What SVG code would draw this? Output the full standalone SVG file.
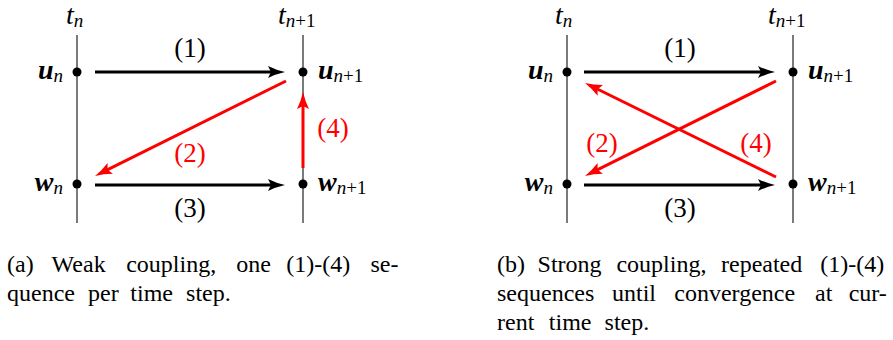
<svg xmlns="http://www.w3.org/2000/svg" width="893" height="340" viewBox="0 0 893 340">
<defs>
<style>
.axis{stroke:#222;stroke-width:1.2;fill:none}
.dot{fill:#000}
.ab{stroke:#000;stroke-width:3;fill:none}
.ar{stroke:#f00;stroke-width:3;fill:none}
</style>
<marker id="hb" markerUnits="userSpaceOnUse" viewBox="0 0 17 12" markerWidth="17" markerHeight="12" refX="9" refY="6" orient="auto">
<path d="M0,0 Q8,4 17,6 Q8,8 0,12 L3,6 z" fill="#000"/>
</marker>
<marker id="hr" markerUnits="userSpaceOnUse" viewBox="0 0 17 12" markerWidth="17" markerHeight="12" refX="9" refY="6" orient="auto">
<path d="M0,0 Q8,4 17,6 Q8,8 0,12 L3,6 z" fill="#f00"/>
</marker>
</defs>
<g id="a-axis-tn">
<line class="axis" x1="77" y1="35" x2="77" y2="223"/>
<text x="66" y="24" font-family="Liberation Serif" font-size="28" font-style="italic">t<tspan font-size="19" dy="3">n</tspan></text>
</g>
<g id="a-axis-tn1">
<line class="axis" x1="303" y1="35" x2="303" y2="223"/>
<text x="278" y="24" font-family="Liberation Serif" font-size="28" font-style="italic">t<tspan font-size="19" dy="3">n</tspan><tspan font-size="19" font-style="normal">+1</tspan></text>
</g>
<g id="a-un">
<circle class="dot" cx="77" cy="72" r="4.5"/>
<text x="63" y="79" text-anchor="end" font-family="Liberation Serif" font-size="28" font-style="italic"><tspan font-weight="bold">u</tspan><tspan font-size="19" dy="3">n</tspan></text>
</g>
<g id="a-wn">
<circle class="dot" cx="77" cy="184" r="4.5"/>
<text x="63" y="191" text-anchor="end" font-family="Liberation Serif" font-size="28" font-style="italic"><tspan font-weight="bold">w</tspan><tspan font-size="19" dy="3">n</tspan></text>
</g>
<g id="a-un1">
<circle class="dot" cx="303" cy="72" r="4.5"/>
<text x="318" y="79" font-family="Liberation Serif" font-size="28" font-style="italic"><tspan font-weight="bold">u</tspan><tspan font-size="19" dy="3">n</tspan><tspan font-size="19" font-style="normal">+1</tspan></text>
</g>
<g id="a-wn1">
<circle class="dot" cx="303" cy="184" r="4.5"/>
<text x="318" y="191" font-family="Liberation Serif" font-size="28" font-style="italic"><tspan font-weight="bold">w</tspan><tspan font-size="19" dy="3">n</tspan><tspan font-size="19" font-style="normal">+1</tspan></text>
</g>
<g id="a-connectors">
<line class="ab" x1="95" y1="72" x2="277" y2="72" marker-end="url(#hb)"/>
<line class="ab" x1="95" y1="185" x2="277" y2="185" marker-end="url(#hb)"/>
<line class="ar" x1="286" y1="81" x2="102.2" y2="172.4" marker-end="url(#hr)"/>
<line class="ar" x1="303" y1="168" x2="303" y2="100" marker-end="url(#hr)"/>
<text x="190" y="57" text-anchor="middle" font-family="Liberation Serif" font-size="27">(1)</text>
<text x="190" y="217" text-anchor="middle" font-family="Liberation Serif" font-size="27">(3)</text>
<text x="190" y="162" text-anchor="middle" font-family="Liberation Serif" font-size="27" fill="#f00">(2)</text>
<text x="333" y="137" text-anchor="middle" font-family="Liberation Serif" font-size="27" fill="#f00">(4)</text>
</g>
<g id="a-caption">
<text y="272" font-family="Liberation Serif" font-size="24"><tspan x="7">(a)</tspan><tspan x="51.6">Weak</tspan><tspan x="126.2">coupling,</tspan><tspan x="236.2">one</tspan><tspan x="286.3">(1)-(4)</tspan><tspan x="370.4">se-</tspan></text>
<text y="301" font-family="Liberation Serif" font-size="24"><tspan x="7">quence</tspan><tspan x="88">per</tspan><tspan x="130.3">time</tspan><tspan x="186.1">step.</tspan></text>
</g>
<g id="b-axis-tn">
<line class="axis" x1="567" y1="35" x2="567" y2="223"/>
<text x="555" y="24" font-family="Liberation Serif" font-size="28" font-style="italic">t<tspan font-size="19" dy="3">n</tspan></text>
</g>
<g id="b-axis-tn1">
<line class="axis" x1="793" y1="35" x2="793" y2="223"/>
<text x="768" y="24" font-family="Liberation Serif" font-size="28" font-style="italic">t<tspan font-size="19" dy="3">n</tspan><tspan font-size="19" font-style="normal">+1</tspan></text>
</g>
<g id="b-un">
<circle class="dot" cx="567" cy="72" r="4.5"/>
<text x="553" y="79" text-anchor="end" font-family="Liberation Serif" font-size="28" font-style="italic"><tspan font-weight="bold">u</tspan><tspan font-size="19" dy="3">n</tspan></text>
</g>
<g id="b-wn">
<circle class="dot" cx="567" cy="184" r="4.5"/>
<text x="553" y="191" text-anchor="end" font-family="Liberation Serif" font-size="28" font-style="italic"><tspan font-weight="bold">w</tspan><tspan font-size="19" dy="3">n</tspan></text>
</g>
<g id="b-un1">
<circle class="dot" cx="793" cy="72" r="4.5"/>
<text x="808" y="79" font-family="Liberation Serif" font-size="28" font-style="italic"><tspan font-weight="bold">u</tspan><tspan font-size="19" dy="3">n</tspan><tspan font-size="19" font-style="normal">+1</tspan></text>
</g>
<g id="b-wn1">
<circle class="dot" cx="793" cy="184" r="4.5"/>
<text x="808" y="191" font-family="Liberation Serif" font-size="28" font-style="italic"><tspan font-weight="bold">w</tspan><tspan font-size="19" dy="3">n</tspan><tspan font-size="19" font-style="normal">+1</tspan></text>
</g>
<g id="b-connectors">
<line class="ab" x1="584" y1="72" x2="767" y2="72" marker-end="url(#hb)"/>
<line class="ab" x1="584" y1="185" x2="767" y2="185" marker-end="url(#hb)"/>
<line class="ar" x1="776" y1="81" x2="592.2" y2="172.4" marker-end="url(#hr)"/>
<line class="ar" x1="776" y1="177" x2="592.2" y2="86.5" marker-end="url(#hr)"/>
<text x="680" y="57" text-anchor="middle" font-family="Liberation Serif" font-size="27">(1)</text>
<text x="680" y="217" text-anchor="middle" font-family="Liberation Serif" font-size="27">(3)</text>
<text x="602" y="152" text-anchor="middle" font-family="Liberation Serif" font-size="27" fill="#f00">(2)</text>
<text x="756" y="152" text-anchor="middle" font-family="Liberation Serif" font-size="27" fill="#f00">(4)</text>
</g>
<g id="b-caption">
<text y="272" font-family="Liberation Serif" font-size="24"><tspan x="497">(b)</tspan><tspan x="537.6">Strong</tspan><tspan x="616.4">coupling,</tspan><tspan x="721">repeated</tspan><tspan x="820.2">(1)-(4)</tspan></text>
<text y="301" font-family="Liberation Serif" font-size="24"><tspan x="497">sequences</tspan><tspan x="612">until</tspan><tspan x="674.3">convergence</tspan><tspan x="815">at</tspan><tspan x="848.7">cur-</tspan></text>
<text y="330" font-family="Liberation Serif" font-size="24"><tspan x="497">rent</tspan><tspan x="548.8">time</tspan><tspan x="604.6">step.</tspan></text>
</g>
</svg>
